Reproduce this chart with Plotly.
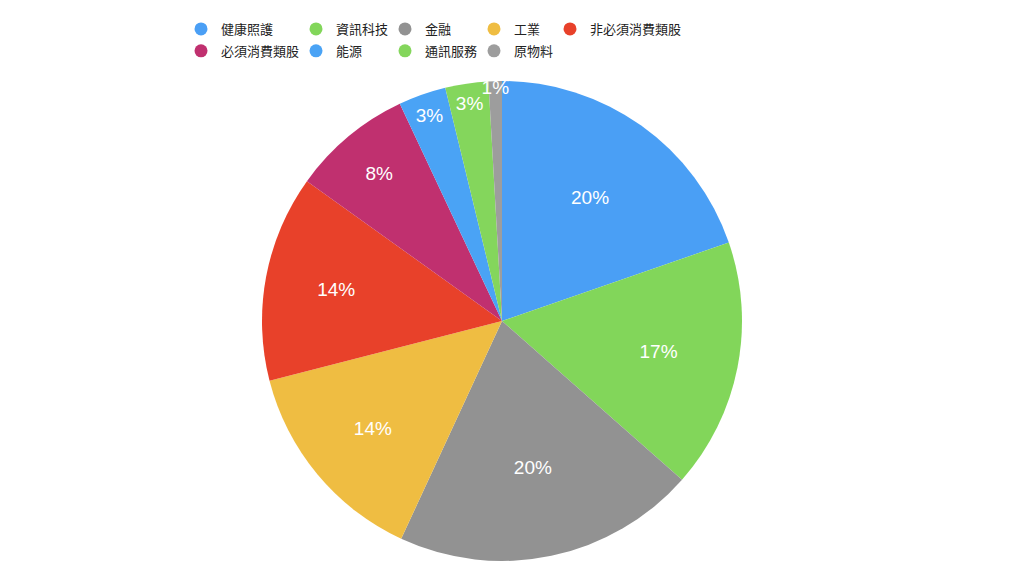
import plotly.graph_objects as go

# sector weights (percent)
sectors = ['健康照護', '資訊科技', '金融', '工業', '非必須消費類股',
           '必須消費類股', '能源', '通訊服務', '原物料']
weights = [19.7, 16.8, 20.4, 14.1, 13.9, 8.1, 3.2, 2.9, 0.9]
colors = ['#4a9ff5', '#82d65a', '#929292', '#efbd42', '#e8412a',
          '#c0306f', '#4aa3f5', '#84d65c', '#9d9d9d']

# legend is laid out as columns, one plotly legend per column
legend_cols = ['legend', 'legend2', 'legend3', 'legend4', 'legend5']
col_x = [193, 308, 397, 486, 562]

font_txt = 'Liberation Sans, Noto Sans CJK TC, sans-serif'

# page body adds 8px, so the pie is laid out 8px up/left
cx, r = 494, 240
top, bottom = 73, 553

fig = go.Figure()

fig.add_trace(go.Pie(
    labels=sectors,
    values=weights,
    sort=False,
    direction='clockwise',
    rotation=0,
    marker=dict(colors=colors, line=dict(width=0)),
    texttemplate='%{percent:.0%}',
    textposition='inside',
    insidetextorientation='horizontal',
    textfont=dict(color='white', size=19, family=font_txt),
    showlegend=False,
    hoverinfo='label+percent',
    domain=dict(x=[(cx - r) / 1024, (cx + r) / 1024], y=[0, 1]),
))

# dummy traces for the round legend markers (point sits outside the axis range)
for i, (name, c) in enumerate(zip(sectors, colors)):
    fig.add_trace(go.Scatter(
        x=[0], y=[0], mode='markers', name=name,
        marker=dict(symbol='circle', size=13, color=c),
        legend=legend_cols[i % 5],
        legendgroup=name,
        hoverinfo='skip',
    ))

legend_style = dict(
    orientation='v',
    xanchor='left', yanchor='top',
    y=(bottom - 6) / (bottom - top),
    font=dict(size=13, color='#222222', family='Noto Sans CJK TC, sans-serif'),
    bgcolor='rgba(0,0,0,0)',
    itemsizing='trace',
    tracegroupgap=2,
    itemwidth=30,
)

layout_legends = {}
for name, xpix in zip(legend_cols, col_x):
    layout_legends[name] = dict(legend_style, x=(xpix - 20) / 1024)

fig.update_layout(
    width=1024, height=576,
    margin=dict(l=0, r=0, t=top, b=576 - bottom),
    paper_bgcolor='white',
    plot_bgcolor='rgba(0,0,0,0)',
    xaxis=dict(visible=False, range=[1, 2], fixedrange=True),
    yaxis=dict(visible=False, range=[1, 2], fixedrange=True),
    uniformtext=dict(minsize=19, mode='show'),
    **layout_legends,
)

fig.write_html('out.html')
